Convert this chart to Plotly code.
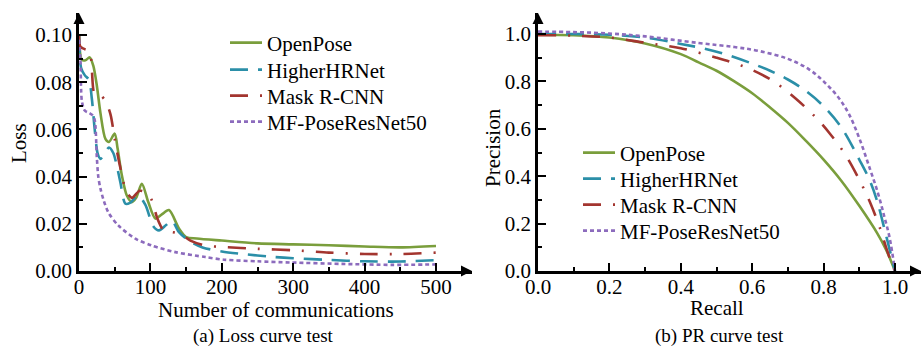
import plotly.graph_objects as go

W, H = 923, 349
FONT = "Liberation Serif"

names = ["OpenPose", "HigherHRNet", "Mask R-CNN", "MF-PoseResNet50"]
colors = ["#7a9e3c", "#2b8fa8", "#a3352f", "#8c6bbd"]
dashes = ["solid", "18px,10px", "18px,12px,2px,12px", "4px,3px"]

# ---- (a) Loss curve data ----
loss_open_x = [0, 4, 9, 15, 20, 25, 30, 37, 42, 50, 54, 60, 67, 74, 80, 88, 97, 107, 116, 126, 140, 150, 165, 200, 250, 300, 350, 400, 450, 500]
loss_open_y = [0.100, 0.0895, 0.0893, 0.0905, 0.087, 0.0785, 0.067, 0.056, 0.0547, 0.0582, 0.052, 0.0406, 0.032, 0.0292, 0.031, 0.037, 0.0292, 0.0222, 0.024, 0.0258, 0.018, 0.0144, 0.0138, 0.0129, 0.0117, 0.0113, 0.0109, 0.0104, 0.0100, 0.0106]

loss_hr_x = [0, 3, 8, 14, 18, 22, 26, 30, 36, 42, 48, 53, 58, 65, 72, 83, 93, 104, 112, 122, 130, 140, 154, 173, 200, 230, 270, 300, 350, 400, 450, 500]
loss_hr_y = [0.100, 0.086, 0.083, 0.081, 0.073, 0.060, 0.050, 0.0475, 0.050, 0.0523, 0.050, 0.0445, 0.0375, 0.0285, 0.029, 0.032, 0.028, 0.019, 0.0172, 0.0195, 0.0214, 0.0165, 0.0129, 0.0100, 0.0083, 0.0072, 0.0060, 0.0054, 0.0047, 0.0041, 0.0040, 0.0046]

loss_mask_x = [0, 2, 8, 15, 18, 22, 30, 37, 44, 50, 57, 66, 74, 85, 95, 102, 110, 119, 130, 142, 156, 177, 200, 250, 300, 350, 400, 450, 500]
loss_mask_y = [0.100, 0.095, 0.094, 0.093, 0.085, 0.075, 0.0745, 0.072, 0.0665, 0.056, 0.045, 0.034, 0.031, 0.034, 0.033, 0.030, 0.022, 0.017, 0.0165, 0.0157, 0.0129, 0.0108, 0.0102, 0.0094, 0.0088, 0.0078, 0.0072, 0.0072, 0.0078]

loss_mf_x = [0, 2, 4, 8, 14, 19, 22, 25, 27, 30, 34, 41, 55, 79, 102, 135, 177, 203, 250, 297, 368, 438, 500]
loss_mf_y = [0.098, 0.090, 0.072, 0.068, 0.067, 0.066, 0.064, 0.048, 0.040, 0.035, 0.0305, 0.0249, 0.0193, 0.0137, 0.0108, 0.0080, 0.0059, 0.0048, 0.0041, 0.0036, 0.0030, 0.0026, 0.0028]

# ---- (b) PR curve data ----
pr_open_x = [0, 0.1, 0.2, 0.3, 0.4, 0.45, 0.5, 0.55, 0.6, 0.65, 0.7, 0.75, 0.8, 0.85, 0.9, 0.95, 0.975, 1.0]
pr_open_y = [0.997, 0.995, 0.985, 0.96, 0.915, 0.88, 0.845, 0.80, 0.75, 0.69, 0.625, 0.55, 0.47, 0.38, 0.275, 0.16, 0.09, 0.0]

pr_hr_x = [0, 0.1, 0.2, 0.31, 0.4, 0.47, 0.53, 0.6, 0.65, 0.7, 0.75, 0.8, 0.85, 0.9, 0.93, 0.95, 0.97, 0.985, 1.0]
pr_hr_y = [1.0, 1.0, 0.997, 0.983, 0.958, 0.937, 0.912, 0.875, 0.845, 0.808, 0.76, 0.695, 0.605, 0.47, 0.38, 0.295, 0.18, 0.09, 0.0]

pr_mask_x = [0, 0.1, 0.2, 0.3, 0.4, 0.5, 0.55, 0.6, 0.66, 0.72, 0.78, 0.82, 0.86, 0.9, 0.93, 0.96, 0.975, 0.99, 1.0]
pr_mask_y = [0.995, 0.993, 0.985, 0.963, 0.94, 0.90, 0.877, 0.848, 0.80, 0.73, 0.645, 0.575, 0.493, 0.385, 0.29, 0.172, 0.10, 0.035, 0.0]

pr_mf_x = [0, 0.1, 0.2, 0.3, 0.45, 0.55, 0.62, 0.7, 0.76, 0.8, 0.84, 0.87, 0.9, 0.93, 0.952, 0.97, 0.985, 1.0]
pr_mf_y = [1.01, 1.008, 1.002, 0.99, 0.962, 0.945, 0.928, 0.895, 0.85, 0.80, 0.735, 0.665, 0.56, 0.43, 0.33, 0.23, 0.14, 0.0]

loss_series = [(loss_open_x, loss_open_y), (loss_hr_x, loss_hr_y), (loss_mask_x, loss_mask_y), (loss_mf_x, loss_mf_y)]
pr_series = [(pr_open_x, pr_open_y), (pr_hr_x, pr_hr_y), (pr_mask_x, pr_mask_y), (pr_mf_x, pr_mf_y)]

loss_xticks = [0, 100, 200, 300, 400, 500]
loss_xminor = [50, 150, 250, 350, 450]
loss_yticks = [0.0, 0.02, 0.04, 0.06, 0.08, 0.10]
loss_yticktext = ["0.00", "0.02", "0.04", "0.06", "0.08", "0.10"]
loss_yminor = [0.01, 0.03, 0.05, 0.07, 0.09]
pr_ticks = [0.0, 0.2, 0.4, 0.6, 0.8, 1.0]
pr_ticktext = ["0.0", "0.2", "0.4", "0.6", "0.8", "1.0"]
pr_minor = [0.1, 0.3, 0.5, 0.7, 0.9]

# pixel geometry
def px(xp):
    return xp / W
def py(yp):
    return (H - yp) / H

L_X0, L_X500, L_XEND = 79, 436, 472
R_X0, R_X1, R_XEND = 538, 895, 921
Y0, Y_TOP_VAL, Y_END = 271, 35, 13

loss_xmax = 500 * (L_XEND - L_X0) / (L_X500 - L_X0)
loss_ymax = 0.10 * (Y0 - Y_END) / (Y0 - Y_TOP_VAL)
pr_xmax = 1.0 * (R_XEND - R_X0) / (R_X1 - R_X0)
pr_ymax = 1.0 * (Y0 - Y_END) / (Y0 - 34)

# legend row positions (pixels)
left_leg_x, left_leg_rows = 225, [43, 70, 96, 122]
right_leg_x, right_leg_rows = 578, [153, 179, 205, 231]

fig = go.Figure()

def legname(k):
    return "legend" if k == 0 else f"legend{k + 1}"

for i, (xs, ys) in enumerate(loss_series):
    fig.add_trace(go.Scatter(
        x=xs, y=ys, mode="lines", name=names[i],
        line=dict(color=colors[i], width=2.6, dash=dashes[i], shape="spline", smoothing=0.8),
        xaxis="x", yaxis="y", legend=legname(i)))

for i, (xs, ys) in enumerate(pr_series):
    fig.add_trace(go.Scatter(
        x=xs, y=ys, mode="lines", name=names[i],
        line=dict(color=colors[i], width=2.6, dash=dashes[i], shape="spline", smoothing=1.0),
        xaxis="x2", yaxis="y2", legend=legname(i + 4)))

# axis arrowheads
fig.add_trace(go.Scatter(x=[0], y=[loss_ymax], mode="markers", xaxis="x", yaxis="y",
                         marker=dict(symbol="arrow-up", size=11, color="black"),
                         cliponaxis=False, showlegend=False, hoverinfo="skip"))
fig.add_trace(go.Scatter(x=[loss_xmax], y=[0], mode="markers", xaxis="x", yaxis="y",
                         marker=dict(symbol="arrow-right", size=11, color="black"),
                         cliponaxis=False, showlegend=False, hoverinfo="skip"))
fig.add_trace(go.Scatter(x=[0], y=[pr_ymax], mode="markers", xaxis="x2", yaxis="y2",
                         marker=dict(symbol="arrow-up", size=11, color="black"),
                         cliponaxis=False, showlegend=False, hoverinfo="skip"))
fig.add_trace(go.Scatter(x=[pr_xmax], y=[0], mode="markers", xaxis="x2", yaxis="y2",
                         marker=dict(symbol="arrow-right", size=11, color="black"),
                         cliponaxis=False, showlegend=False, hoverinfo="skip"))

tickfont = dict(family=FONT, size=21, color="black")
common = dict(showline=True, linecolor="black", linewidth=2.6, ticks="inside", ticklen=8,
              tickwidth=2.4, tickcolor="black", showgrid=False, zeroline=False,
              tickfont=tickfont, fixedrange=True, automargin=False)
minor_common = dict(ticks="inside", ticklen=4, tickwidth=2.2, tickcolor="black", showgrid=False)

layout_legends = {}
for k in range(8):
    lx = left_leg_x if k < 4 else right_leg_x
    ly = (left_leg_rows + right_leg_rows)[k]
    layout_legends[legname(k)] = dict(
        x=px(lx), y=py(ly), xanchor="left", yanchor="middle",
        bgcolor="rgba(0,0,0,0)", font=dict(family=FONT, size=21, color="black"),
        borderwidth=0, itemwidth=32)

fig.update_layout(
    template="none",
    width=W, height=H,
    margin=dict(l=0, r=0, t=0, b=0, autoexpand=False),
    paper_bgcolor="white", plot_bgcolor="rgba(0,0,0,0)",
    font=dict(family=FONT, size=21, color="black"),
    xaxis=dict(domain=[px(L_X0), px(L_XEND)], range=[0, loss_xmax], anchor="y",
               tickvals=loss_xticks, ticklabelstandoff=-5,
               minor=dict(tickvals=loss_xminor, **minor_common), **common),
    yaxis=dict(domain=[py(Y0), py(Y_END)], range=[0, loss_ymax], anchor="x",
               tickvals=loss_yticks, ticktext=loss_yticktext,
               minor=dict(tickvals=loss_yminor, **minor_common), **common),
    xaxis2=dict(domain=[px(R_X0), px(R_XEND)], range=[0, pr_xmax], anchor="y2",
                tickvals=pr_ticks, ticktext=pr_ticktext, ticklabelstandoff=-5,
                minor=dict(tickvals=pr_minor, **minor_common), **common),
    yaxis2=dict(domain=[py(Y0), py(Y_END)], range=[0, pr_ymax], anchor="x2",
                tickvals=pr_ticks, ticktext=pr_ticktext,
                minor=dict(tickvals=pr_minor, **minor_common), **common),
    showlegend=True,
    **layout_legends,
)

ann = [
    dict(text="Loss", x=px(19), y=py(143), textangle=-90),
    dict(text="Number of communications", x=px(276), y=py(310)),
    dict(text="(a) Loss curve test", x=px(263), y=py(336), size=19),
    dict(text="Precision", x=px(493), y=py(147), textangle=-90),
    dict(text="Recall", x=px(717), y=py(308)),
    dict(text="(b) PR curve test", x=px(719), y=py(336), size=19),
]
for a in ann:
    fig.add_annotation(text=a["text"], x=a["x"], y=a["y"], xref="paper", yref="paper",
                       xanchor="center", yanchor="middle", showarrow=False,
                       textangle=a.get("textangle", 0),
                       font=dict(family=FONT, size=a.get("size", 21), color="black"))

fig.write_html("out.html")
